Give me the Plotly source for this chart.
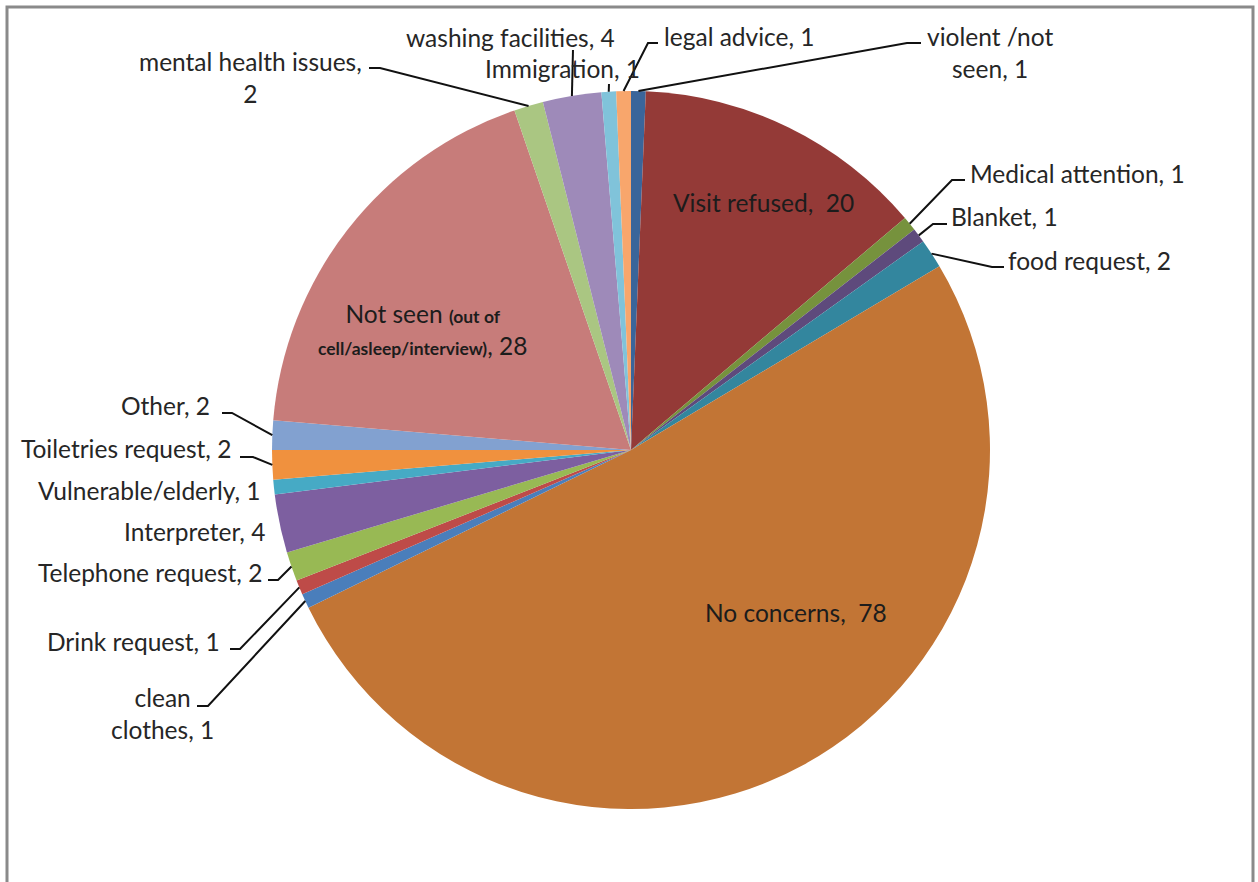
import math
import plotly.graph_objects as go

# ---------------- data ----------------
labels = ["violent /not seen", "Visit refused", "Medical attention", "Blanket",
          "food request", "No concerns", "clean clothes", "Drink request",
          "Telephone request", "Interpreter", "Vulnerable/elderly",
          "Toiletries request", "Other",
          "Not seen (out of cell/asleep/interview)", "mental health issues",
          "washing facilities", "Immigration", "legal advice"]
values = [1, 20, 1, 1, 2, 78, 1, 1, 2, 4, 1, 2, 2, 28, 2, 4, 1, 1]
colors = ["#3A659A", "#943A37", "#76923D", "#5E4A7C", "#33869E", "#C27535",
          "#4A7EBB", "#BE4B48", "#98B954", "#7D5FA0", "#46AAC5", "#F0913E",
          "#82A1D0", "#C77C7A", "#AAC682", "#9E8AB9", "#80C3DA", "#F8A66C"]

# ---------------- layout (pixels) ----------------
W, H = 1258, 882
CX, CY, R = 631, 450, 359
FONT = "Lato"
FS = 24.5

# display text (line breaks), label anchor, leader points from label side to elbow
label_layout = {
    "violent /not seen": dict(name="violent /not<br>seen", x=990, y=52, xa="center",
                              leader=[(921, 43), (907, 43)]),
    "Visit refused": dict(name="Visit refused, &nbsp;", x=763, y=202, xa="center", leader=None),
    "Medical attention": dict(name="Medical attention", x=968, y=173, xa="left",
                              leader=[(965, 180), (952, 180)]),
    "Blanket": dict(name="Blanket", x=949, y=216, xa="left",
                    leader=[(947, 224), (933, 224)]),
    "food request": dict(name="food request", x=1006, y=260, xa="left",
                         leader=[(1004, 267), (992, 267)]),
    "No concerns": dict(name="No concerns, &nbsp;", x=796, y=612, xa="center", leader=None),
    "clean clothes": dict(name="clean<br>clothes", x=162, y=713, xa="center",
                          leader=[(197, 706), (208, 706)]),
    "Drink request": dict(name="Drink request", x=222, y=641, xa="right",
                          leader=[(230, 649), (240, 649)]),
    "Telephone request": dict(name="Telephone request", x=264, y=572, xa="right",
                              leader=[(268, 580), (278, 580)]),
    "Interpreter": dict(name="Interpreter", x=267, y=531, xa="right", leader=None),
    "Vulnerable/elderly": dict(name="Vulnerable/elderly", x=263, y=490, xa="right", leader=None),
    "Toiletries request": dict(name="Toiletries request", x=233, y=448, xa="right",
                               leader=[(240, 457), (253, 457)]),
    "Other": dict(name="Other", x=212, y=406, xa="right",
                  leader=[(222, 413), (232, 413)]),
    "Not seen (out of cell/asleep/interview)": dict(
        name="Not seen <b><span style='font-size:17.5px'>(out of</span></b><br>"
             "<b><span style='font-size:17.5px'>cell/asleep/interview)</span></b>, ",
        x=422, y=329, xa="center", leader=None),
    "mental health issues": dict(name="mental health issues,<br>", x=250, y=77, xa="center",
                                 leader=[(369, 68), (380, 68)]),
    "washing facilities": dict(name="washing facilities", x=510, y=37, xa="center",
                               leader=[(573, 50)]),
    "Immigration": dict(name="Immigration", x=562, y=68, xa="center",
                        leader=[(609, 84)]),
    "legal advice": dict(name="legal advice", x=662, y=36, xa="left",
                         leader=[(658, 43), (648, 43)]),
}
inside = {"Visit refused", "No concerns", "Not seen (out of cell/asleep/interview)"}


def pxx(x):
    return x / W


def pyy(y):
    return 1 - y / H


fig = go.Figure(go.Pie(
    labels=labels, values=values, sort=False, direction="clockwise", rotation=0,
    marker=dict(colors=colors, line=dict(width=0)),
    textinfo="none", showlegend=False,
    domain=dict(x=[pxx(CX - R), pxx(CX + R)], y=[pyy(CY + R), pyy(CY - R)]),
))

total = sum(values)
annotations = []
shapes = []
cum = 0.0
for lab, v in zip(labels, values):
    mid = math.radians((cum + v / 2) / total * 360)
    cum += v
    ex, ey = CX + R * math.sin(mid), CY - R * math.cos(mid)
    L = label_layout[lab]
    name = L["name"]
    if name.endswith("<br>") or name.endswith(", ") or name.endswith("&nbsp;"):
        txt = f"{name}{v}"
    else:
        txt = f"{name}, {v}"
    annotations.append(dict(
        x=pxx(L["x"]), y=pyy(L["y"]), xref="paper", yref="paper", text=txt,
        showarrow=False, xanchor=L["xa"], yanchor="middle", align="center",
        font=dict(family=FONT, size=FS, color="#1c1c1c" if lab in inside else "#262626"),
    ))
    if L["leader"]:
        pts = L["leader"] + [(ex, ey)]
        path = "M " + " L ".join(f"{pxx(a):.5f},{pyy(b):.5f}" for a, b in pts)
        shapes.append(dict(type="path", xref="paper", yref="paper", path=path,
                           line=dict(color="#111111", width=2)))

# chart-area frame (left, top, right)
frame = "#8a8a8a"
shapes.append(dict(type="path", xref="paper", yref="paper",
                   path=f"M {pxx(7)},{pyy(900)} L {pxx(7)},{pyy(7)} L {pxx(1253)},{pyy(7)} L {pxx(1253)},{pyy(900)}",
                   line=dict(color=frame, width=3)))

fig.update_layout(
    width=W, height=H, margin=dict(l=0, r=0, t=0, b=0),
    paper_bgcolor="white", plot_bgcolor="white",
    annotations=annotations, shapes=shapes,
)
fig.write_html("out.html", config={"displayModeBar": False},
               post_script="document.body.style.margin='0';")
